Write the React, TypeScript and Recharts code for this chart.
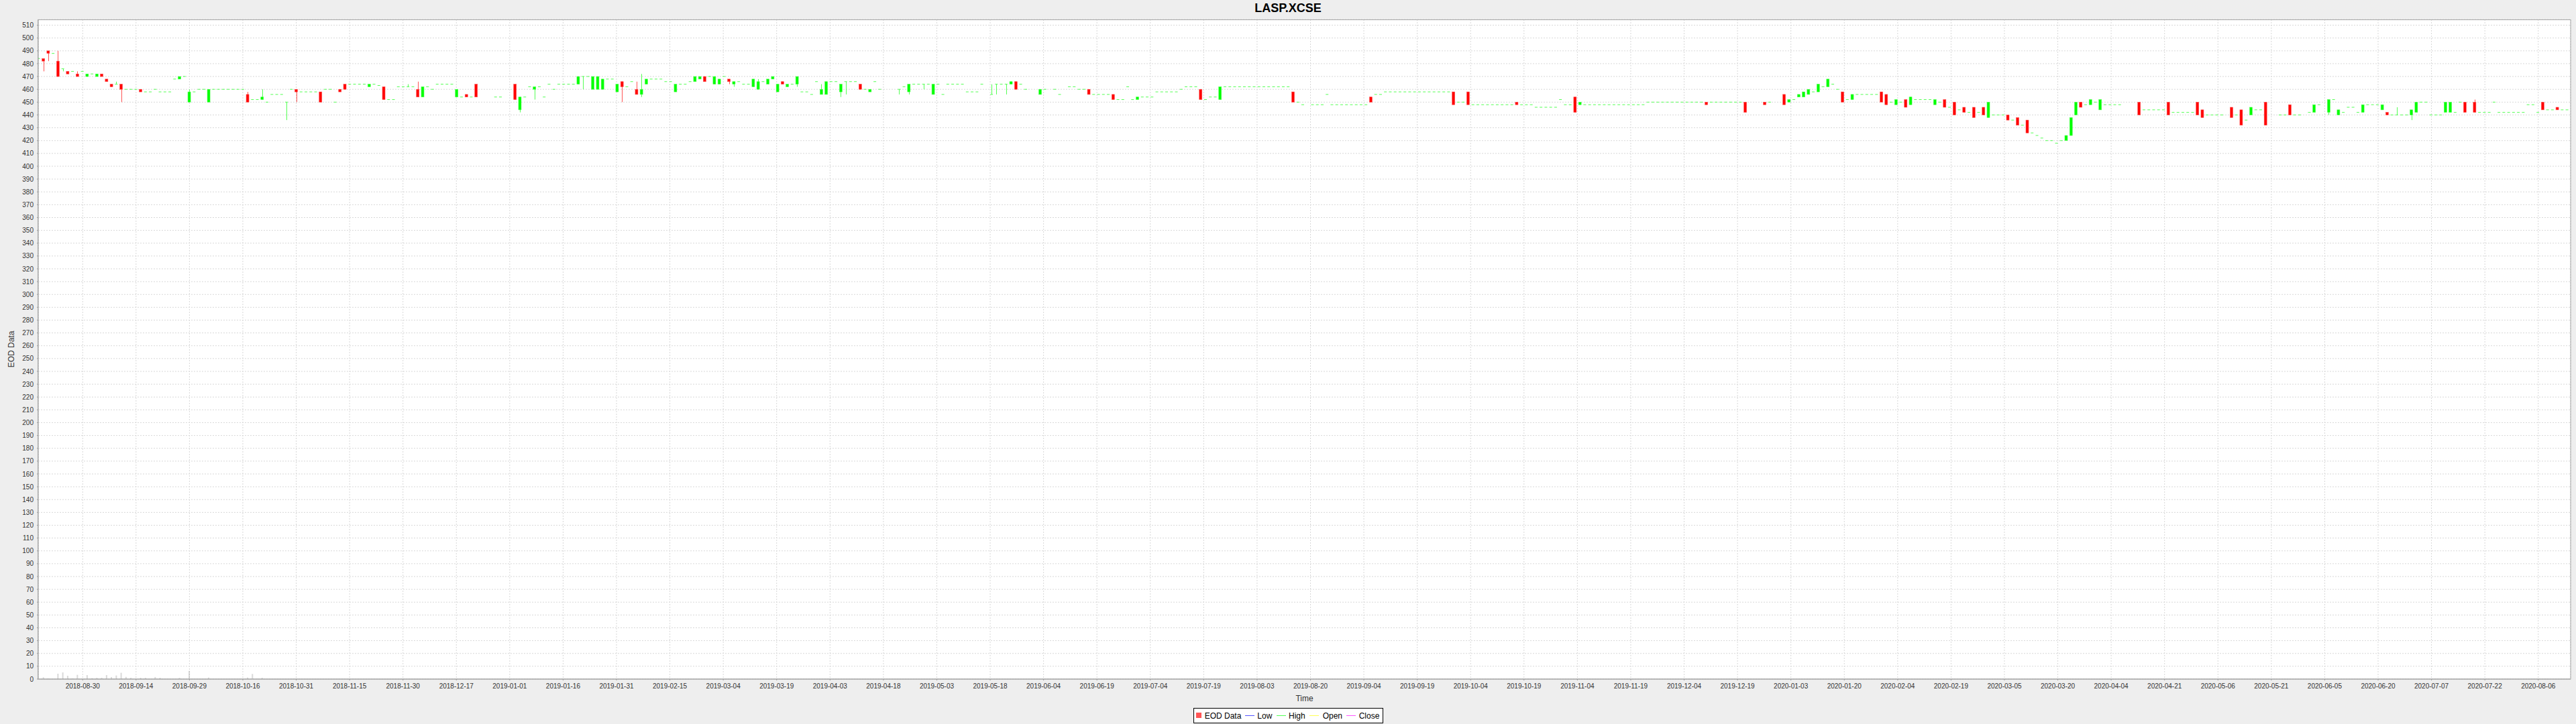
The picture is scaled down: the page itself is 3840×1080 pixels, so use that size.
import React from "react";
import { ComposedChart, Bar, XAxis, YAxis, CartesianGrid } from "recharts";

document.body.style.margin = "0";

// one slot per weekday, starting 2018-08-17; null = no trading
const open = [
  484, 484, 490, 488, 482, 476, 474, 474, 472, 474,
  470, 472, 470, 472, 468, 464, 464, 464, 460, 460,
  460, 460, 458, 458, 460, 458, 458, 458, 468, 468,
  470, 450, 458, 460, 460, 450, 460, 460, 460, 460,
  460, 460, 460, 456, 452, 452, 452, 450, 456, 456,
  456, 450, 460, 460, 458, 458, 458, 458, 458, 460,
  460, 450, 460, 464, 464, 464, 464, 464, 462, 464,
  463, 462, 452, 452, 462, 462, 462, 462, 460, 454,
  462, 460, 464, 464, 464, 464, 454, 454, 456, 454,
  464, null, null, null, 454, 454, null, null, 464, 444,
  454, 462, 460, 462, 454, 464, 460, 464, 464, 464,
  464, 464, 470, 470, 460, 460, 460, 468, 468, 458,
  466, 462, 466, 460, 456, 464, 468, 468, 468, 466,
  466, 458, 464, 464, 466, 466, 468, 470, 470, 464,
  464, 470, 468, 464, 466, 464, 464, 462, 460, 466,
  464, 468, 458, 466, 462, 464, 464, 458, 458, 456,
  466, 456, 456, 466, 466, 458, 466, 466, 466, 464,
  460, 458, 466, 460, null, null, null, 460, 462, 458,
  464, 464, 464, 464, 456, 464, 456, 464, 464, 464,
  464, 458, 458, 458, 464, null, 456, 464, 464, 464,
  464, 466, 464, 460, null, null, 456, 460, null, 460,
  456, null, 462, 462, 460, 460, 460, 456, 456, 456,
  456, 456, 452, 452, 462, 452, 452, 454, 454, 454,
  458, 458, 458, 458, 458, 460, 462, 462, 462, 460,
  452, 454, 454, 452, 462, 462, 462, 462, 462, 462,
  462, 462, 462, 462, 462, 462, 462, 462, 458, 450,
  448, null, 448, 448, 448, 456, 448, 448, 448, 448,
  448, 448, 448, 448, 454, 456, 456, 458, 458, 458,
  458, 458, 458, 458, 458, 458, 458, 458, 458, 458,
  458, 458, 450, 450, 458, 448, 448, 448, 448, 448,
  448, 448, 448, 448, 450, 448, 448, 448, 446, 446,
  446, 446, 446, 452, 448, 448, 454, 448, 448, 448,
  448, 448, 448, 448, 448, 448, 448, 448, 448, 448,
  448, 450, 450, 450, 450, 450, 450, 450, 450, 450,
  450, 450, 450, 450, 450, 450, 450, 450, 450, 450,
  450, 450, null, null, null, 450, 450, null, null, 456,
  450, 452, 454, 454, 456, 458, 458, 462, 462, 464,
  460, 458, 452, 452, 456, 456, 456, 456, 456, 458,
  456, 450, 448, 450, 452, 448, 452, 452, 452, 452,
  448, 450, 452, 446, 450, 444, 446, 442, 446, 442,
  446, 438, 440, 440, 440, 440, 436, 438, 432, 436,
  426, 424, 422, 420, 420, 418, 420, 420, 424, 440,
  450, 448, 448, 450, 444, 448, 448, 448, 448, null,
  null, null, 450, 444, 444, 444, 444, 444, 450, 442,
  442, 442, 442, 442, 450, 444, 440, 440, 440, 440,
  null, 446, 440, 444, 436, 440, 444, 444, 450, null,
  null, 440, 440, 448, 440, 440, null, 442, 442, 448,
  null, 442, 452, 440, 442, 446, 446, 442, 442, 448,
  448, 448, 444, 442, 440, 440, 440, 440, 440, 442,
  450, 450, 440, 440, 440, 442, 442, 442, 450, 450,
  null, 450, 442, 442, 442, 450, 442, 442, 442, 442,
  442, 442, 448, 448, 442, 450, 444, 444, 446, 444,
  444,
];

const high = [
  484, 484, 490, 488, 490, 476, 474, 474, 474, 474,
  472, 472, 472, 472, 468, 464, 466, 464, 460, 460,
  460, 460, 458, 458, 460, 458, 458, 458, 468, 470,
  470, 460, 458, 460, 460, 460, 460, 460, 460, 460,
  460, 460, 460, 458, 452, 452, 460, 450, 456, 456,
  456, 450, 460, 460, 458, 458, 458, 458, 458, 460,
  460, 450, 460, 464, 464, 464, 464, 464, 464, 464,
  463, 462, 452, 452, 462, 462, 464, 462, 466, 462,
  462, 460, 464, 464, 464, 464, 460, 454, 456, 454,
  464, null, null, null, 454, 454, null, null, 464, 454,
  454, 462, 462, 462, 454, 464, 460, 464, 464, 464,
  464, 470, 470, 470, 470, 470, 468, 468, 468, 464,
  466, 462, 466, 466, 472, 468, 468, 468, 468, 466,
  466, 464, 464, 464, 466, 470, 470, 470, 470, 470,
  468, 470, 468, 466, 466, 464, 464, 468, 468, 466,
  468, 470, 464, 466, 464, 464, 470, 458, 458, 456,
  466, 464, 466, 466, 466, 464, 466, 466, 466, 464,
  460, 460, 466, 460, null, null, null, 460, 462, 464,
  464, 464, 464, 464, 464, 464, 456, 464, 464, 464,
  464, 458, 458, 458, 464, null, 464, 464, 464, 464,
  466, 466, 464, 460, null, null, 460, 460, null, 460,
  456, null, 462, 462, 460, 460, 460, 456, 456, 456,
  456, 456, 452, 452, 462, 452, 454, 454, 454, 454,
  458, 458, 458, 458, 458, 460, 462, 462, 462, 460,
  452, 454, 454, 462, 462, 462, 462, 462, 462, 462,
  462, 462, 462, 462, 462, 462, 462, 462, 458, 450,
  448, null, 448, 448, 448, 456, 448, 448, 448, 448,
  448, 448, 448, 448, 454, 456, 456, 458, 458, 458,
  458, 458, 458, 458, 458, 458, 458, 458, 458, 458,
  458, 458, 450, 450, 458, 448, 448, 448, 448, 448,
  448, 448, 448, 448, 450, 448, 448, 448, 446, 446,
  446, 446, 446, 452, 448, 448, 454, 450, 448, 448,
  448, 448, 448, 448, 448, 448, 448, 448, 448, 448,
  448, 450, 450, 450, 450, 450, 450, 450, 450, 450,
  450, 450, 450, 450, 450, 450, 450, 450, 450, 450,
  450, 450, null, null, null, 450, 450, null, null, 456,
  452, 452, 456, 458, 460, 458, 464, 462, 468, 464,
  460, 458, 452, 456, 456, 456, 456, 456, 456, 458,
  456, 450, 452, 450, 452, 454, 452, 452, 452, 452,
  452, 450, 452, 446, 450, 444, 446, 442, 446, 442,
  446, 450, 440, 440, 440, 440, 436, 438, 432, 436,
  426, 424, 422, 420, 420, 418, 420, 424, 438, 450,
  450, 448, 452, 450, 452, 448, 448, 448, 448, null,
  null, null, 450, 444, 444, 444, 444, 444, 450, 442,
  442, 442, 442, 442, 450, 444, 440, 440, 440, 440,
  null, 446, 440, 444, 436, 446, 444, 444, 450, null,
  null, 440, 440, 448, 440, 440, null, 442, 448, 448,
  null, 452, 452, 444, 442, 446, 446, 442, 448, 448,
  448, 448, 448, 442, 440, 446, 440, 440, 444, 450,
  450, 450, 440, 440, 440, 450, 450, 442, 450, 450,
  null, 452, 442, 442, 442, 450, 442, 442, 442, 442,
  442, 442, 448, 448, 442, 450, 444, 444, 446, 444,
  444,
];

const low = [
  484, 474, 482, 488, 470, 474, 472, 474, 470, 474,
  470, 472, 470, 470, 466, 462, 464, 450, 460, 460,
  460, 458, 458, 458, 460, 458, 458, 458, 468, 468,
  470, 450, 458, 460, 460, 450, 460, 460, 460, 460,
  460, 460, 460, 450, 452, 452, 452, 450, 456, 456,
  456, 436, 460, 450, 458, 458, 458, 458, 450, 460,
  460, 450, 458, 460, 464, 464, 464, 464, 462, 464,
  463, 452, 452, 452, 462, 462, 462, 462, 454, 454,
  462, 460, 464, 464, 464, 464, 454, 454, 454, 454,
  454, null, null, null, 454, 454, null, null, 452, 442,
  454, 462, 452, 462, 454, 464, 460, 464, 464, 464,
  464, 464, 460, 470, 460, 460, 460, 468, 468, 458,
  450, 462, 466, 456, 454, 464, 468, 468, 468, 466,
  466, 458, 464, 464, 466, 466, 468, 466, 470, 464,
  464, 470, 464, 462, 466, 464, 464, 462, 460, 466,
  464, 468, 458, 464, 462, 464, 462, 458, 458, 456,
  466, 456, 456, 466, 466, 454, 456, 466, 466, 460,
  460, 458, 466, 460, null, null, null, 456, 462, 456,
  464, 464, 460, 464, 456, 464, 456, 464, 464, 464,
  464, 458, 458, 458, 464, null, 456, 456, 464, 456,
  464, 460, 464, 460, null, null, 456, 460, null, 460,
  456, null, 462, 462, 460, 460, 456, 456, 456, 456,
  456, 452, 452, 452, 462, 452, 452, 454, 454, 454,
  458, 458, 458, 458, 458, 460, 462, 462, 462, 452,
  452, 454, 454, 452, 462, 462, 462, 462, 462, 462,
  462, 462, 462, 462, 462, 462, 462, 462, 450, 450,
  448, null, 448, 448, 448, 456, 448, 448, 448, 448,
  448, 448, 448, 448, 450, 456, 456, 458, 458, 458,
  458, 458, 458, 458, 458, 458, 458, 458, 458, 458,
  458, 448, 450, 450, 448, 448, 448, 448, 448, 448,
  448, 448, 448, 448, 448, 448, 448, 448, 446, 446,
  446, 446, 446, 452, 448, 448, 442, 448, 448, 448,
  448, 448, 448, 448, 448, 448, 448, 448, 448, 448,
  448, 450, 450, 450, 450, 450, 450, 450, 450, 450,
  450, 450, 450, 448, 450, 450, 450, 450, 450, 450,
  450, 442, null, null, null, 448, 450, null, null, 448,
  450, 452, 454, 454, 456, 458, 458, 462, 462, 464,
  460, 450, 452, 452, 456, 456, 456, 456, 456, 450,
  448, 450, 448, 450, 446, 448, 452, 452, 452, 452,
  448, 450, 446, 446, 440, 444, 442, 442, 438, 442,
  440, 438, 440, 440, 440, 436, 436, 432, 432, 426,
  426, 424, 422, 420, 420, 418, 420, 420, 424, 440,
  446, 448, 448, 450, 444, 448, 448, 448, 448, null,
  null, null, 440, 444, 444, 444, 444, 444, 440, 442,
  442, 442, 442, 442, 440, 438, 440, 440, 440, 440,
  null, 438, 440, 432, 436, 440, 444, 444, 432, null,
  null, 440, 440, 440, 440, 440, null, 442, 442, 448,
  null, 440, 452, 440, 442, 446, 446, 442, 442, 448,
  448, 448, 444, 440, 440, 440, 440, 440, 436, 442,
  450, 450, 440, 440, 440, 442, 442, 442, 450, 442,
  null, 442, 442, 442, 442, 450, 442, 442, 442, 442,
  442, 442, 448, 448, 442, 444, 444, 444, 444, 444,
  444,
];

const close = [
  484, 482, 488, 488, 470, 476, 472, 474, 470, 474,
  472, 472, 472, 470, 466, 462, 464, 460, 460, 460,
  460, 458, 458, 458, 460, 458, 458, 458, 468, 470,
  470, 458, 458, 460, 460, 460, 460, 460, 460, 460,
  460, 460, 460, 450, 452, 452, 454, 450, 456, 456,
  456, 450, 460, 458, 458, 458, 458, 458, 450, 460,
  460, 450, 458, 460, 464, 464, 464, 464, 464, 464,
  463, 452, 452, 452, 462, 462, 462, 462, 454, 462,
  462, 460, 464, 464, 464, 464, 460, 454, 454, 454,
  454, null, null, null, 454, 454, null, null, 452, 454,
  454, 462, 462, 462, 454, 464, 460, 464, 464, 464,
  464, 470, 470, 470, 470, 470, 468, 468, 468, 464,
  462, 462, 466, 456, 460, 468, 468, 468, 468, 466,
  466, 464, 464, 464, 466, 470, 470, 466, 470, 470,
  468, 470, 466, 466, 466, 464, 464, 468, 466, 466,
  468, 470, 464, 464, 464, 464, 470, 458, 458, 456,
  466, 460, 466, 466, 466, 464, 466, 466, 466, 460,
  460, 460, 466, 460, null, null, null, 460, 462, 464,
  464, 464, 464, 464, 464, 464, 456, 464, 464, 464,
  464, 458, 458, 458, 464, null, 456, 464, 464, 464,
  466, 460, 464, 460, null, null, 460, 460, null, 460,
  456, null, 462, 462, 460, 460, 456, 456, 456, 456,
  456, 452, 452, 452, 462, 452, 454, 454, 454, 454,
  458, 458, 458, 458, 458, 460, 462, 462, 462, 452,
  452, 454, 454, 462, 462, 462, 462, 462, 462, 462,
  462, 462, 462, 462, 462, 462, 462, 462, 450, 450,
  448, null, 448, 448, 448, 456, 448, 448, 448, 448,
  448, 448, 448, 448, 450, 456, 456, 458, 458, 458,
  458, 458, 458, 458, 458, 458, 458, 458, 458, 458,
  458, 448, 450, 450, 448, 448, 448, 448, 448, 448,
  448, 448, 448, 448, 448, 448, 448, 448, 446, 446,
  446, 446, 446, 452, 448, 448, 442, 450, 448, 448,
  448, 448, 448, 448, 448, 448, 448, 448, 448, 448,
  448, 450, 450, 450, 450, 450, 450, 450, 450, 450,
  450, 450, 450, 448, 450, 450, 450, 450, 450, 450,
  450, 442, null, null, null, 448, 450, null, null, 448,
  452, 452, 456, 458, 460, 458, 464, 462, 468, 464,
  460, 450, 452, 456, 456, 456, 456, 456, 456, 450,
  448, 450, 452, 450, 446, 454, 452, 452, 452, 452,
  452, 450, 446, 446, 440, 444, 442, 442, 438, 442,
  440, 450, 440, 440, 440, 436, 436, 432, 432, 426,
  426, 424, 422, 420, 420, 418, 420, 424, 438, 450,
  446, 448, 452, 450, 452, 448, 448, 448, 448, null,
  null, null, 440, 444, 444, 444, 444, 444, 440, 442,
  442, 442, 442, 442, 440, 438, 440, 440, 440, 440,
  null, 438, 440, 432, 436, 446, 444, 444, 432, null,
  null, 440, 440, 440, 440, 440, null, 442, 448, 448,
  null, 452, 452, 444, 442, 446, 446, 442, 448, 448,
  448, 448, 448, 440, 440, 440, 440, 440, 444, 450,
  450, 450, 440, 440, 440, 450, 450, 442, 450, 442,
  null, 442, 442, 442, 442, 450, 442, 442, 442, 442,
  442, 442, 448, 448, 442, 444, 444, 444, 444, 444,
  444,
];

// volume bars, in axis units as they appear on the chart
const volume = [
  null, 1.4, 0.5, null, 4.2, 5.2, 2.6, 0.5, 3.3, null,
  3.1, 0.7, 1, 1, 3.1, 1.6, 2.8, 4.9, 1.7, 1,
  null, 1, 1, null, 1.6, 1, null, null, null, 1,
  null, 6.4, null, null, null, 1.2, null, null, null, null,
  null, null, null, 1.2, 4, 0.3, 1, null, null, null,
];

const tickLabels = [
  "2018-08-30", "2018-09-14", "2018-09-29", "2018-10-16", "2018-10-31", "2018-11-15",
  "2018-11-30", "2018-12-17", "2019-01-01", "2019-01-16", "2019-01-31", "2019-02-15",
  "2019-03-04", "2019-03-19", "2019-04-03", "2019-04-18", "2019-05-03", "2019-05-18",
  "2019-06-04", "2019-06-19", "2019-07-04", "2019-07-19", "2019-08-03", "2019-08-20",
  "2019-09-04", "2019-09-19", "2019-10-04", "2019-10-19", "2019-11-04", "2019-11-19",
  "2019-12-04", "2019-12-19", "2020-01-03", "2020-01-20", "2020-02-04", "2020-02-19",
  "2020-03-05", "2020-03-20", "2020-04-04", "2020-04-21", "2020-05-06", "2020-05-21",
  "2020-06-05", "2020-06-20", "2020-07-07", "2020-07-22", "2020-08-06",
];
// first and last tick, in weekday slots
const firstTick = 9.14;
const lastTick = 514.14;
const tickPos = tickLabels.map(
  (_, i) => firstTick + (i * (lastTick - firstTick)) / (tickLabels.length - 1)
);

const yTicks = [
  0, 10, 20, 30, 40, 50, 60, 70, 80, 90, 100, 110, 120, 130, 140, 150, 160, 170,
  180, 190, 200, 210, 220, 230, 240, 250, 260, 270, 280, 290, 300, 310, 320, 330,
  340, 350, 360, 370, 380, 390, 400, 410, 420, 430, 440, 450, 460, 470, 480, 490,
  500, 510,
];

type Row = { k: number; o: number; h: number; l: number; c: number; vol?: number };

const rows: Row[] = [];
open.forEach((o, k) => {
  if (o == null) return;
  const row: Row = { k, o, h: high[k] as number, l: low[k] as number, c: close[k] as number };
  const v = volume[k];
  if (v != null) row.vol = v;
  rows.push(row);
});

function Candle(props: any) {
  const { x, y, width, height, payload } = props;
  if (!payload || x == null) return null;
  const { o, h, l, c } = payload as Row;
  const up = c >= o;
  const edge = up ? "#55ff55" : "#ff5555";
  const fill = up ? "#00ff00" : "#ff0000";
  const cx = Math.round(x + width / 2) + 0.5;
  const py = (v: number) => (h === l ? y : y + ((h - v) / (h - l)) * height);
  const top = py(Math.max(o, c));
  const bot = py(Math.min(o, c));
  return (
    <g>
      {h > l && <line x1={cx} x2={cx} y1={y} y2={y + height} stroke={edge} strokeWidth={1} />}
      {bot - top < 0.8 ? (
        <line x1={x} x2={x + width} y1={top} y2={top} stroke={edge} strokeWidth={1} />
      ) : (
        <rect x={x} y={top} width={width} height={bot - top} fill={fill} stroke={edge} strokeWidth={0.6} />
      )}
    </g>
  );
}

const font = "'Liberation Sans', Arial, sans-serif";

export default function App() {
  return (
    <div style={{ position: "relative", width: 3840, height: 1080, background: "#eeeeee", fontFamily: font }}>
      <ComposedChart width={3840} height={1080} data={rows} margin={{ top: 29, right: 8, bottom: 37, left: 0 }}>
        <CartesianGrid fill="#ffffff" stroke="#d8d8d8" strokeDasharray="2 2" />
        <XAxis
          type="number"
          dataKey="k"
          domain={[0, 520.8]}
          ticks={tickPos}
          interval={0}
          allowDataOverflow
          height={30}
          tickSize={2}
          tickMargin={5}
          tickFormatter={(v: number) => tickLabels[tickPos.indexOf(v)] ?? ""}
          tick={{ fontSize: 10, fill: "#333333" }}
          stroke="#999999"
        />
        <XAxis xAxisId="v" type="number" dataKey="k" domain={[0, 520.8]} allowDataOverflow hide />
        <YAxis
          type="number"
          domain={[0, 514.5]}
          ticks={yTicks}
          interval={0}
          width={57}
          tickSize={2}
          tickMargin={5}
          tick={{ fontSize: 10, fill: "#333333" }}
          stroke="#999999"
        />
        <Bar xAxisId="v" dataKey="vol" barSize={2} fill="#808080" fillOpacity={0.3} isAnimationActive={false} />
        <Bar dataKey={(d: Row) => [d.l, d.h]} barSize={4} shape={<Candle />} isAnimationActive={false} />
      </ComposedChart>
      <svg width={3840} height={1080} style={{ position: "absolute", left: 0, top: 0, pointerEvents: "none" }}>
        <rect x={56.5} y={29.5} width={3775.5} height={983.5} fill="none" stroke="#a8a8a8" strokeWidth={1} />
        <text x={1920} y={18} textAnchor="middle" fontSize={18} fontWeight="bold" fontFamily={font} fill="#000">
          LASP.XCSE
        </text>
        <text x={1944.5} y={1046} textAnchor="middle" fontSize={12} fontFamily={font} fill="#333">
          Time
        </text>
        <text x={21} y={521} textAnchor="middle" fontSize={12} fontFamily={font} fill="#333" transform="rotate(-90 21 521)">
          EOD Data
        </text>
        <g fontSize={12} fontFamily={font} fill="#000">
          <rect x={1779.5} y={1056.5} width={282} height={22} fill="#ffffff" stroke="#000" />
          <rect x={1783} y={1063} width={8} height={8} fill="#ff5555" />
          <text x={1795.7} y={1072}>EOD Data</text>
          <line x1={1856} x2={1870} y1={1067.5} y2={1067.5} stroke="#5555ff" />
          <text x={1874.3} y={1072}>Low</text>
          <line x1={1903} x2={1917} y1={1067.5} y2={1067.5} stroke="#55ff55" />
          <text x={1921} y={1072}>High</text>
          <line x1={1952} x2={1966} y1={1067.5} y2={1067.5} stroke="#ffff55" />
          <text x={1971.7} y={1072}>Open</text>
          <line x1={2007} x2={2021} y1={1067.5} y2={1067.5} stroke="#ff55ff" />
          <text x={2025.7} y={1072}>Close</text>
        </g>
      </svg>
    </div>
  );
}
